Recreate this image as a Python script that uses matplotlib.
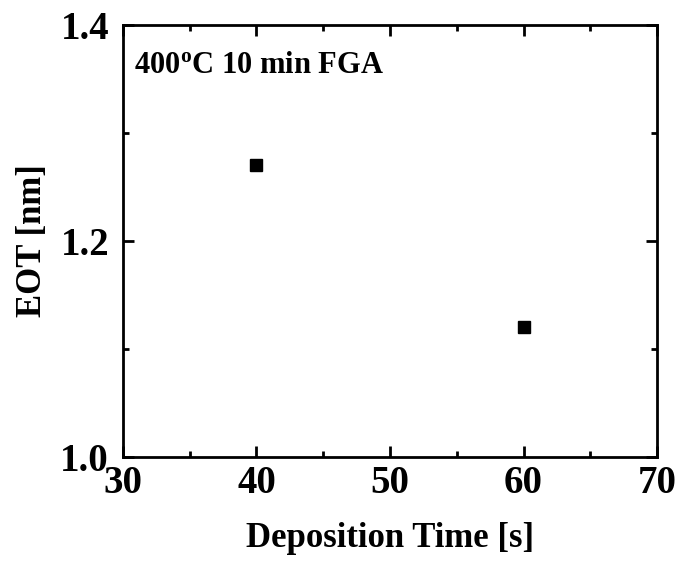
import matplotlib
matplotlib.use("Agg")
import matplotlib.pyplot as plt
from matplotlib.ticker import MultipleLocator

plt.rcParams['font.family'] = ['Liberation Serif', 'DejaVu Serif']
plt.rcParams['font.weight'] = 'bold'
plt.rcParams['mathtext.fontset'] = 'custom'
plt.rcParams['mathtext.rm'] = 'Liberation Serif:bold'
plt.rcParams['mathtext.it'] = 'Liberation Serif:bold'
plt.rcParams['mathtext.bf'] = 'Liberation Serif:bold'

deposition_time = [40, 60]
eot = [1.27, 1.12]

fig = plt.figure(figsize=(6.83, 5.63), dpi=100)
ax = fig.add_axes([0.180, 0.188, 0.782, 0.768])
ax.plot(deposition_time, eot, 's', color='black', markersize=9.2, linestyle='none')

ax.set_xlim(30, 70)
ax.set_ylim(1.0, 1.4)
ax.xaxis.set_major_locator(MultipleLocator(10))
ax.xaxis.set_minor_locator(MultipleLocator(5))
ax.yaxis.set_major_locator(MultipleLocator(0.2))
ax.yaxis.set_minor_locator(MultipleLocator(0.1))
ax.tick_params(which='both', direction='in', top=True, right=True, width=2)
ax.tick_params(which='major', length=8, labelsize=28)
ax.tick_params(which='minor', length=4)
ax.tick_params(axis='x', which='major', pad=6)
ax.tick_params(axis='y', which='major', pad=10)
for lab in ax.get_xticklabels() + ax.get_yticklabels():
    lab.set_fontweight('bold')
for s in ax.spines.values():
    s.set_linewidth(2)

ax.set_xlabel('Deposition Time [s]', fontsize=25, fontweight='bold', labelpad=14)
ax.set_ylabel('EOT [nm]', fontsize=25, fontweight='bold', labelpad=8)
ax.text(0.02, 0.94, r'400$^{\mathrm{o}}$C 10 min FGA', transform=ax.transAxes,
        fontsize=22, fontweight='bold', va='top', ha='left')

fig.savefig('out.png', dpi=100)
